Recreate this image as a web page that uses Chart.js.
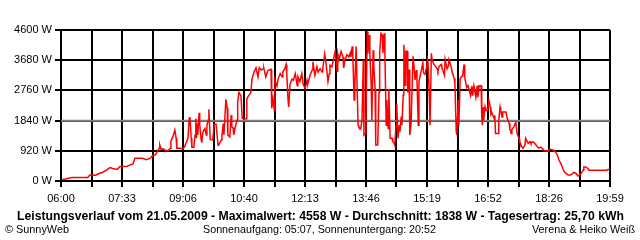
<!DOCTYPE html>
<html><head><meta charset="utf-8">
<script src="https://cdn.jsdelivr.net/npm/chart.js@4.4.1/dist/chart.umd.min.js"></script>
<style>
html,body{margin:0;padding:0;background:#fff;}
#wrap{position:relative;width:640px;height:240px;overflow:hidden;font-family:"Liberation Sans",Arial,sans-serif;color:#000;}
#c{position:absolute;left:0;top:0;}
.t{position:absolute;white-space:nowrap;line-height:1;transform-origin:0 0;}
#title{left:17px;top:210px;font-weight:bold;font-size:12px;}
#f1{left:5px;top:224px;font-size:11px;}
#f2{left:203px;top:224px;font-size:11px;}
#f3{left:532px;top:224px;font-size:11px;}
</style></head>
<body>
<div id="wrap">
<canvas id="c" width="640" height="240"></canvas>
<div class="t" id="title" data-w="607">Leistungsverlauf vom 21.05.2009 - Maximalwert: 4558 W - Durchschnitt: 1838 W - Tagesertrag: 25,70 kWh</div>
<div class="t" id="f1" data-w="64">© SunnyWeb</div>
<div class="t" id="f2" data-w="233">Sonnenaufgang: 05:07, Sonnenuntergang: 20:52</div>
<div class="t" id="f3" data-w="103">Verena &amp; Heiko Weiß</div>
</div>
<script>
// minutes after 06:00
const minutes = [2,8,14,18,41,44,53,57,63,67,72,75,79,86,90,101,105,110,113,125,130,136,141,144,147,150,151,153,156,160,164,167,168,171,174,176,177,182,186,189,191,194,196,197,199,200,203,205,206,207,208,209,211,212,214,215,217,220,222,223,225,226,228,232,234,237,240,241,245,246,248,249,252,254,255,258,260,261,263,264,266,269,270,272,275,277,280,283,284,287,290,292,295,298,301,303,306,309,310,313,316,318,321,322,324,326,327,330,332,335,338,339,342,344,345,347,348,350,353,355,358,361,362,365,368,370,373,376,377,381,384,385,388,391,393,396,399,400,403,405,408,410,411,414,417,419,422,423,425,428,431,432,434,437,440,442,443,445,446,448,449,451,452,454,455,458,460,462,463,465,466,468,469,471,472,474,475,477,478,480,481,484,486,487,489,491,492,494,495,497,498,500,501,503,506,507,509,510,512,513,515,517,518,520,521,523,524,526,527,529,530,532,533,535,536,538,540,541,543,544,546,547,550,553,554,556,557,559,560,561,563,564,566,567,568,570,572,575,576,578,581,582,584,586,587,590,592,593,596,598,599,601,602,604,605,607,608,610,613,614,616,617,620,622,626,628,629,631,634,636,637,639,642,643,644,645,646,648,649,652,654,656,657,658,662,663,664,668,669,671,672,674,675,680,682,685,686,688,689,692,694,695,697,700,701,704,706,709,710,714,717,718,721,724,726,730,733,736,738,741,744,746,750,753,756,759,761,764,767,769,772,775,779,782,784,787,790,792,795,798,799,802,805,807,818,834,836,839];
const watts = [45,60,100,105,110,180,175,220,260,300,370,410,380,350,440,450,485,520,690,690,650,690,790,790,890,1000,1095,960,980,930,930,1000,1220,1350,1550,1300,1000,1000,990,1050,1150,1300,1910,1950,1300,1030,1030,1400,1900,1300,1750,1400,2080,1730,1300,1170,1500,1600,1400,1700,1850,2185,1260,1250,1730,1730,1090,1100,1250,1400,1750,1400,2490,2215,1400,1340,2010,1650,1620,1400,1620,1850,2410,2700,2600,1910,1880,1900,2510,2610,2680,3120,3320,3450,3170,3450,3380,3420,3430,3170,3360,3380,3400,2215,2500,2150,3070,2890,3120,3270,3170,3320,3420,3550,3270,2460,2255,2950,3100,3070,3270,2900,3170,3030,3270,2950,2820,3070,2950,3250,3380,3630,3220,3480,3320,3420,3320,3420,3865,3580,3030,3270,3530,3480,3765,3950,3340,3880,3700,3950,3780,3440,3690,3850,3780,3900,3780,4100,3780,2470,2900,4100,4100,1700,1650,1590,1850,3690,1400,1450,1850,4558,3880,4450,3880,2950,1850,3980,3500,2800,1095,1095,2700,3900,4500,4450,3900,4500,3880,1700,2470,1600,2800,1300,1300,1200,1150,1095,1700,2360,1300,1700,1500,1960,1700,2620,4150,2920,3950,3950,2700,3400,1400,1740,1740,3800,3380,3080,3380,3080,1700,3030,3300,3600,3300,3250,3300,3500,3700,3600,2500,1700,3890,3700,3650,3550,3500,3420,3350,3500,3550,3450,3350,3220,3700,3420,3500,3700,3500,3300,3250,3120,2950,1510,1400,2470,1700,3120,3200,3250,3550,3150,2850,2910,2600,2900,2600,2900,2550,2900,2550,2900,2900,1960,1700,2250,1850,2250,2150,2150,2450,2250,2050,2100,1900,2000,1450,1450,1850,2250,2150,1950,2100,2100,1900,1750,1570,1450,1570,1650,1750,1800,1450,1290,1200,1045,1000,1100,1300,1150,1200,1150,1200,1150,1095,1000,1030,990,925,925,900,960,960,930,880,770,640,530,380,280,230,180,180,230,260,230,155,180,230,330,430,430,380,330,330,330,350,350];
const averageW = 1838;
const timeLabels = ['06:00','07:33','09:06','10:40','12:13','13:46','15:19','16:52','18:26','19:59'];
const yTicks = [0,920,1840,2760,3680,4600];
const dayMinutes = 839;

const points = minutes.map((m,i)=>({x:m,y:watts[i]}));
Chart.defaults.font.family = '"Liberation Sans", Arial, sans-serif';
Chart.defaults.font.size = 11;
Chart.defaults.color = '#000';

new Chart(document.getElementById('c'), {
  type:'line',
  data:{datasets:[
    {data:points,borderColor:'#ff0000',borderWidth:1.5,pointRadius:0,tension:0,order:0},
    {data:[{x:0,y:averageW},{x:dayMinutes,y:averageW}],borderColor:'#808080',borderWidth:2,pointRadius:0,order:1}
  ]},
  options:{
    responsive:false,animation:false,devicePixelRatio:1,
    layout:{padding:{top:30,right:30,bottom:0,left:0}},
    plugins:{legend:{display:false},tooltip:{enabled:false}},
    scales:{
      x:{type:'linear',min:0,max:dayMinutes,
        afterBuildTicks:s=>{s.ticks=Array.from({length:2*timeLabels.length-1},(_,i)=>({value:i*dayMinutes/(2*(timeLabels.length-1))}));},
        afterFit:s=>{s.height=59;},
        ticks:{autoSkip:false,maxRotation:0,padding:5,callback:(v,i)=>i%2===0?timeLabels[i/2]:''},
        grid:{color:'#000',lineWidth:2,tickLength:6},
        border:{color:'#000',width:2}},
      y:{min:0,max:4600,
        afterBuildTicks:s=>{s.ticks=yTicks.map(v=>({value:v}));},
        afterFit:s=>{s.width=61;},
        ticks:{padding:3,callback:v=>v+' W'},
        grid:{color:'#000',lineWidth:2,tickLength:6},
        border:{color:'#000',width:2}}
    }
  }
});
document.querySelectorAll('.t').forEach(el=>{
  const w=el.getBoundingClientRect().width, tw=+el.dataset.w;
  if(w>0) el.style.transform='scaleX('+(tw/w)+')';
});
</script>
</body></html>
